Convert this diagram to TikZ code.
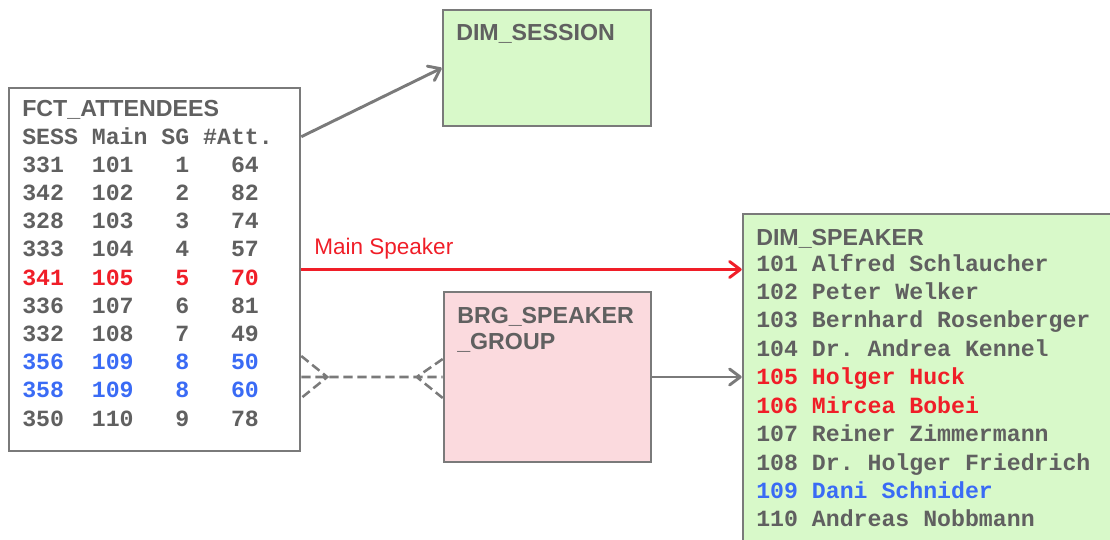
\documentclass[tikz,border=0pt]{standalone}
\usepackage{fontspec}
\setmainfont{Liberation Sans}
\setmonofont{Liberation Mono}
\usepackage{xcolor}
\usetikzlibrary{arrows.meta,calc,fit}

\definecolor{txtgray}{HTML}{606060}
\definecolor{boxgray}{HTML}{7A7A7A}
\definecolor{dimgreen}{HTML}{D8F9C9}
\definecolor{brgpink}{HTML}{FBDADE}
\definecolor{hlred}{HTML}{F01E28}
\definecolor{hlblue}{HTML}{3A6BF5}

\begin{document}
\begin{tikzpicture}[x=0.75pt, y=-0.75pt,
    box/.style={draw=boxgray, line width=1.9pt, inner sep=0pt},
    title/.style={anchor=base west, inner sep=0pt, text=txtgray,
      font=\fontsize{17.4}{20}\selectfont\bfseries, align=left},
    mono/.style={anchor=base west, inner sep=0pt, text=txtgray,
      font=\fontsize{17.4}{20}\selectfont\ttfamily\bfseries\frenchspacing},
    link/.style={draw=boxgray, line width=2.2pt,
      -{Straight Barb[length=8pt,width=12pt,round]}}]
  \useasboundingbox (0,0) rectangle (1110,539);
  \clip (0,0) rectangle (1110,539);

  % Tables
  \node[box, fill=white, fit={(9,88) (300,451)}] (fct) {};
  \node[box, fill=dimgreen, fit={(443,10) (651,126)}] (dses) {};
  \node[box, fill=brgpink, fit={(444,292) (651,462)}] (brg) {};
  \node[box, fill=dimgreen, fit={(743,214) (1130,570)}] (dspk) {};

  % Table titles
  \node[title] (fcttitle) at (22,116) {FCT\_ATTENDEES};
  \node[title] (sestitle) at (456,40) {DIM\_SESSION};
  \node[title] (brgtitle) at (457,349) {BRG\_SPEAKER\\[-0.5pt]\_GROUP};
  \node[title] (spktitle) at (756,245) {DIM\_SPEAKER};

  % Fact rows
  \node[mono] (atthead) at (22,144) {SESS~Main~SG~\#Att.};
  \foreach \s/\m/\g/\a/\c [count=\i] in {331/101/1/64/txtgray,
      342/102/2/82/txtgray, 328/103/3/74/txtgray, 333/104/4/57/txtgray,
      341/105/5/70/hlred, 336/107/6/81/txtgray, 332/108/7/49/txtgray,
      356/109/8/50/hlblue, 358/109/8/60/hlblue, 350/110/9/78/txtgray}
    \node[mono, text=\c] (att\i) at (22,144+28.2*\i) {\s~~\m~~~\g~~~\a};

  % Speaker rows
  \foreach \n/\c [count=\i from 0] in {101 Alfred Schlaucher/txtgray,
      102 Peter Welker/txtgray, 103 Bernhard Rosenberger/txtgray,
      104 Dr. Andrea Kennel/txtgray, 105 Holger Huck/hlred,
      106 Mircea Bobei/hlred, 107 Reiner Zimmermann/txtgray,
      108 Dr. Holger Friedrich/txtgray, 109 Dani Schnider/hlblue,
      110 Andreas Nobbmann/txtgray}
    \node[mono, text=\c] (spk\i) at (756,271+28.44*\i) {\n};

  % References
  \draw[link] ($(fct.north east)+(0,50)$) -- (dses.west);
  \draw[link, draw=hlred] (fct.east) -- (fct.east -| dspk.west);
  \node[anchor=base west, inner sep=0pt, text=hlred,
    font=\fontsize{16.9}{19}\selectfont] (mainlbl) at (314,254) {Main Speaker};
  \draw[link] (brg.east) -- (brg.east -| dspk.west);

  % Bridge with crow's feet on both ends
  \coordinate (bl) at (fct.east |- brg.east);
  \draw[boxgray, line width=1.9pt, dash pattern=on 7pt off 3.5pt]
    (bl) -- (brg.west)
    ($(bl)+(0,-21)$) -- ($(bl)+(26,0)$) -- ($(bl)+(0,21)$)
    ($(brg.west)+(0,-18)$) -- ($(brg.west)+(-26,0)$) -- ($(brg.west)+(0,21)$);
\end{tikzpicture}
\end{document}
